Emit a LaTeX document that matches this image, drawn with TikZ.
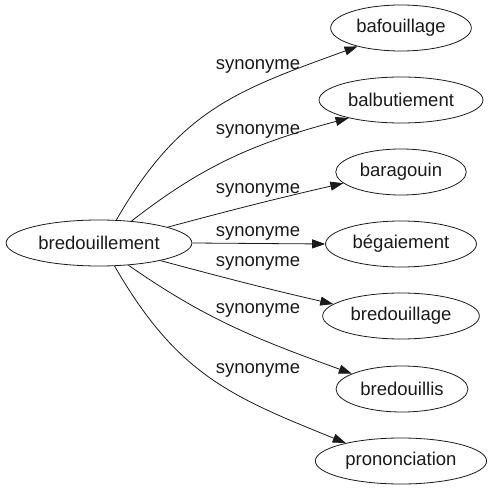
\documentclass[tikz,border=0pt]{standalone}
\usepackage{fontspec}
\setmainfont{Liberation Sans}
\usetikzlibrary{arrows.meta,shapes.geometric}
\definecolor{graphink}{HTML}{1A1A1A}

\begin{document}
\begin{tikzpicture}[
  x=1pt,
  y=1pt,
  font=\fontsize{18.5}{20}\selectfont,
  word/.style={
    ellipse,
    draw=graphink,
    text=graphink,
    line width=0.8pt,
    inner xsep=5pt,
    inner ysep=2pt,
    minimum height=46pt
  },
  rel/.style={
    text=graphink,
    inner sep=0pt
  },
  syn/.style={
    draw=graphink,
    line width=0.8pt,
    -{Triangle[length=13pt,width=9pt]}
  }
]
\useasboundingbox (0,0) rectangle (493,491);

\node[word] (bred) at (99,248) {bredouillement};

\node[word] (bafou) at (401,463) {bafouillage};
\node[word] (balbu) at (401,391) {balbutiement};
\node[word] (baragouin) at (401,319) {baragouin};
\node[word] (begai) at (401,247) {bégaiement};
\node[word] (bredage) at (401,175) {bredouillage};
\node[word] (bredis) at (402,102) {bredouillis};
\node[word] (prononc) at (401,30) {prononciation};

\draw[syn] (bred.53) to[out=60,in=200,looseness=1.1] (bafou.203);
\draw[syn] (bred.34) to[out=38,in=195] (balbu.199);
\draw[syn] (bred.13) to[out=15,in=193] (baragouin.191);
\draw[syn] (bred.east) -- (begai.west);
\draw[syn] (bred.-16) to[out=-15,in=167] (bredage.170);
\draw[syn] (bred.-37) to[out=-35,in=160] (bredis.163);
\draw[syn] (bred.-56) to[out=-60,in=158,looseness=1.1] (prononc.162);

\node[rel] (l1) at (258,425) {synonyme};
\node[rel] (l2) at (258,360) {synonyme};
\node[rel] (l3) at (258,301) {synonyme};
\node[rel] (l4) at (258,258) {synonyme};
\node[rel] (l5) at (258,228) {synonyme};
\node[rel] (l6) at (258,181) {synonyme};
\node[rel] (l7) at (258,121) {synonyme};

\end{tikzpicture}
\end{document}
